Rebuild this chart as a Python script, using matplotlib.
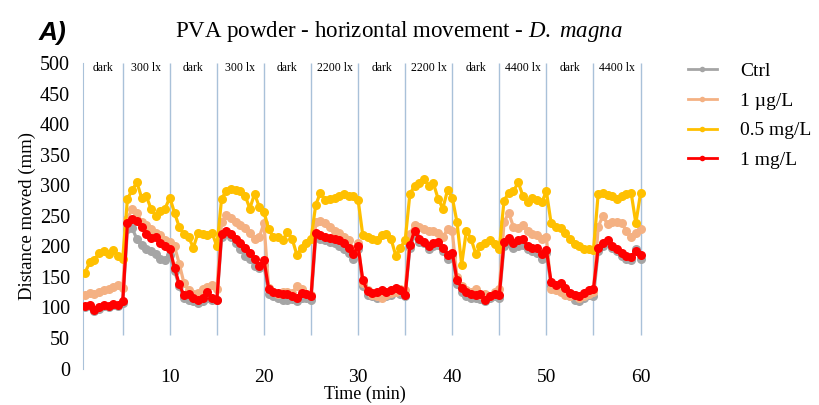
import numpy as np
import matplotlib
matplotlib.use('Agg')
import matplotlib.pyplot as plt
from matplotlib.lines import Line2D

plt.rcParams['font.family'] = ['Liberation Serif', 'DejaVu Serif']
plt.rcParams['mathtext.fontset'] = 'custom'
plt.rcParams['mathtext.it'] = 'Liberation Serif:italic'
plt.rcParams['mathtext.rm'] = 'Liberation Serif'

# time points: every 0.5 min from 1 to 60
time = np.arange(1, 60.01, 0.5)

ctrl = [100, 102, 95, 98, 102, 100, 104, 102, 108,
        228, 230, 212, 202, 196, 192, 188, 180, 178, 186,
        160, 135, 115, 112, 110, 108, 110, 115, 112, 112,
        215, 222, 215, 205, 195, 185, 180, 168, 165, 170,
        122, 118, 115, 113, 112, 114, 110, 116, 115, 112,
        215, 212, 210, 208, 205, 200, 195, 190, 180, 195,
        135, 120, 118, 115, 120, 118, 120, 125, 122, 118,
        198, 218, 208, 205, 195, 200, 202, 192, 180, 185,
        138, 125, 118, 115, 116, 114, 110, 115, 118, 116,
        200, 205, 198, 200, 202, 195, 192, 190, 180, 190,
        135, 130, 132, 125, 118, 112, 110, 115, 120, 118,
        192, 200, 205, 198, 192, 185, 180, 178, 195, 180]

ug1 = [120, 123, 122, 126, 128, 130, 133, 136, 132,
       245, 262, 255, 240, 235, 228, 222, 218, 210, 208,
       200, 172, 140, 128, 122, 124, 130, 134, 136, 130,
       240, 251, 246, 240, 235, 230, 222, 212, 215, 238,
       132, 125, 122, 125, 126, 124, 135, 130, 122, 120,
       240, 242, 238, 232, 226, 222, 215, 210, 195, 205,
       140, 128, 120, 118, 116, 120, 124, 126, 130, 128,
       220, 235, 232, 228, 225, 226, 222, 215, 228, 225,
       150, 135, 128, 125, 130, 120, 122, 118, 125, 130,
       240, 255, 232, 230, 235, 226, 220, 218, 212, 215,
       130, 128, 125, 120, 118, 120, 115, 118, 122, 125,
       232, 250, 236, 240, 240, 238, 225, 215, 222, 228]

mg05 = [157, 174, 178, 190, 193, 187, 194, 184, 180,
        278, 292, 305, 280, 282, 262, 250, 258, 262, 280,
        255, 232, 220, 215, 198, 222, 220, 218, 222, 200,
        278, 291, 294, 293, 290, 283, 262, 286, 265, 257,
        228, 215, 216, 210, 224, 212, 186, 198, 205, 212,
        268, 288, 276, 278, 280, 282, 285, 283, 282, 276,
        218, 215, 212, 210, 218, 220, 212, 185, 198, 210,
        286, 299, 303, 311, 299, 303, 278, 262, 292, 280,
        240, 170, 226, 212, 188, 200, 206, 210, 204, 196,
        275, 288, 290, 305, 283, 272, 280, 276, 272, 290,
        238, 232, 230, 222, 212, 204, 200, 196, 195, 194,
        286, 287, 284, 282, 278, 282, 285, 288, 238, 287]

mg1 = [102, 104, 96, 100, 104, 102, 106, 104, 110,
       238, 245, 242, 232, 220, 214, 215, 205, 200, 196,
       165, 138, 120, 122, 116, 113, 116, 125, 115, 113,
       220, 226, 220, 212, 205, 198, 190, 180, 168, 178,
       130, 125, 124, 122, 122, 118, 116, 124, 122, 118,
       222, 218, 216, 214, 212, 210, 205, 198, 188, 200,
       145, 127, 124, 126, 128, 125, 128, 132, 128, 120,
       202, 226, 212, 208, 200, 206, 208, 198, 186, 190,
       145, 132, 125, 122, 120, 122, 112, 118, 122, 120,
       208, 214, 205, 210, 212, 200, 198, 198, 188, 194,
       142, 136, 140, 132, 124, 120, 118, 124, 128, 130,
       198, 205, 210, 200, 195, 190, 184, 182, 192, 186]

series_names = ['Ctrl', '1 µg/L', '0.5 mg/L', '1 mg/L']
series_colors = ['#A5A5A5', '#F4B183', '#FFC000', '#FF0000']

phase_bounds = [5, 10, 15, 20, 25, 30, 35, 40, 45, 50, 55, 60]
phase_labels = ['dark', '300 lx', 'dark', '300 lx', 'dark', '2200 lx',
                'dark', '2200 lx', 'dark', '4400 lx', 'dark', '4400 lx']

fig = plt.figure(figsize=(8.19, 4.05), dpi=100)
ax = fig.add_axes([0.101, 0.09, 0.688, 0.754])

line_col = '#A9C1D9'
ax.vlines(phase_bounds, 55, 500, color=line_col, lw=1.0, zorder=1)

for vals, c in zip([ctrl, ug1, mg05, mg1], series_colors):
    ax.plot(time, vals, color=c, lw=2.3, marker='o', markersize=6.5,
            markeredgewidth=0, zorder=3)

starts = [0.75] + phase_bounds[:-1]
for s, e, lab in zip(starts, phase_bounds, phase_labels):
    ax.text((s + e) / 2, 492, lab, ha='center', va='center', fontsize=8.5)

ax.set_xlim(0.75, 60.6)
ax.set_ylim(0, 500)
ax.set_yticks(np.arange(0, 501, 50))
ax.set_xticks([10, 20, 30, 40, 50, 60])
ax.tick_params(axis='y', length=0, labelsize=14.5, pad=9)
ax.tick_params(axis='x', length=0, labelsize=14, pad=0)
for sp in ['top', 'right', 'bottom']:
    ax.spines[sp].set_visible(False)
ax.spines['left'].set_color(line_col)
ax.set_ylabel('Distance moved (mm)', fontsize=13.5, labelpad=3)
ax.set_xlabel('Time (min)', fontsize=13, labelpad=0)

handles = [Line2D([0], [0], color=c, lw=2, marker='o', markersize=4,
                  markeredgewidth=0) for c in series_colors]
fig.legend(handles, series_names, loc='upper left', bbox_to_anchor=(0.83, 0.865),
           frameon=False, fontsize=14, handlelength=1.5, labelspacing=0.62,
           handletextpad=1.2, borderaxespad=0)

fig.text(0.487, 0.921, r'PVA powder - horizontal movement - $\it{D.\ magna}$',
         ha='center', va='center', fontsize=16.5)
fig.text(0.047, 0.918, 'A)', ha='left', va='center', fontsize=19,
         fontweight='bold', style='italic', family='Liberation Sans')

fig.savefig('out.png', dpi=100)
